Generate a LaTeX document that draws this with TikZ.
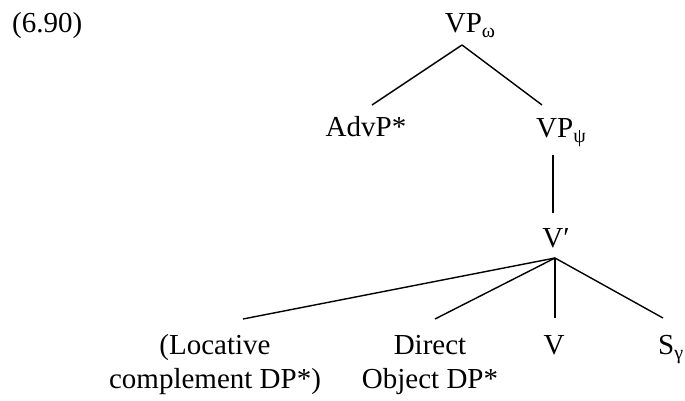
\documentclass[tikz,border=0pt]{standalone}
\usepackage{fontspec}
\setmainfont{Liberation Serif}
\newcommand{\tsub}[1]{\raisebox{-5pt}{\fontsize{20}{20}\selectfont #1}}
\begin{document}
\begin{tikzpicture}[
  lbl/.style={inner sep=0pt, anchor=base, font=\fontsize{29}{34}\selectfont, align=center},
  edge/.style={line width=1.4pt}
]
\useasboundingbox (0pt,0pt) rectangle (685pt,-401pt);
\begin{scope}
\clip (100pt,0pt) rectangle (685pt,-401pt);
\node[lbl] (loc) at (215pt,-388pt) {(Locative\\complement DP*)};
\end{scope}
\node[lbl, anchor=base west] (num) at (12pt,-33pt) {(6.90)};
\node[lbl] (vpw) at (470pt,-33pt) {VP\tsub{ω}};
\node[lbl] (advp) at (366pt,-137pt) {AdvP*};
\node[lbl] (vpp) at (561pt,-138pt) {VP\tsub{ψ}};
\node[lbl] (vbar) at (556pt,-247pt) {V′};
\node[lbl] (dobj) at (430pt,-388pt) {Direct\\Object DP*};
\node[lbl] (v) at (554pt,-354pt) {V};
\node[lbl, anchor=base west] (s) at (658pt,-354pt) {S\tsub{γ}};
\draw[edge] ([xshift=-8pt,yshift=-12pt]vpw.base) -- ([xshift=6pt,yshift=32pt]advp.base);
\draw[edge] ([xshift=-8pt,yshift=-12pt]vpw.base) -- ([xshift=-19pt,yshift=33pt]vpp.base);
\draw[edge] ([xshift=-8pt,yshift=-17pt]vpp.base) -- ([xshift=-3pt,yshift=34pt]vbar.base);
\draw[edge] ([xshift=-1pt,yshift=-11pt]vbar.base) -- ([xshift=28pt,yshift=69pt]loc.base);
\draw[edge] ([xshift=-1pt,yshift=-11pt]vbar.base) -- ([xshift=5pt,yshift=69pt]dobj.base);
\draw[edge] ([xshift=-1pt,yshift=-11pt]vbar.base) -- ([xshift=1pt,yshift=36pt]v.base);
\draw[edge] ([xshift=-1pt,yshift=-11pt]vbar.base) -- ([xshift=5pt,yshift=36pt]s.base west);
\end{tikzpicture}
\end{document}
